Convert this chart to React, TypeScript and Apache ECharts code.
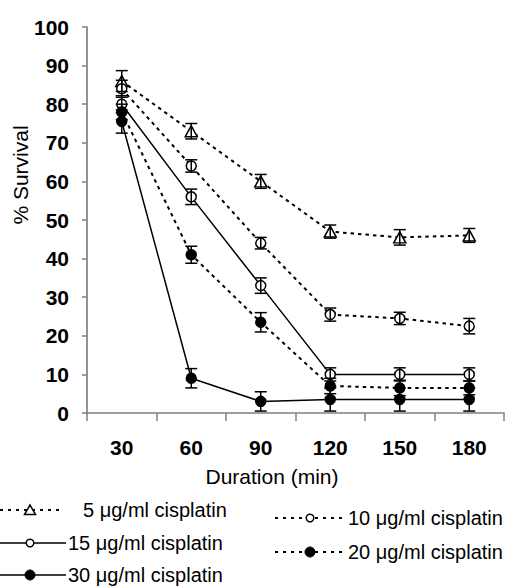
import React, { useEffect, useRef } from "react";
import * as echarts from "echarts";

const categories = ["30", "60", "90", "120", "150", "180"];
const yTicks = [0, 10, 20, 30, 40, 50, 60, 70, 80, 90, 100];

const s5 = [86, 73, 60, 47, 45.5, 46];
const e5 = [2.7, 2, 1.8, 1.7, 2, 1.8];
const s10 = [84, 64, 44, 25.5, 24.5, 22.5];
const e10 = [2.2, 1.6, 1.5, 1.7, 1.6, 2];
const s15 = [80, 56, 33, 10, 10, 10];
const e15 = [2.2, 2, 2, 1.7, 1.7, 1.7];
const s20 = [78, 41, 23.5, 7, 6.5, 6.5];
const e20 = [2, 2.2, 2.5, 2, 2, 1.8];
const s30 = [75.5, 9, 3, 3.5, 3.5, 3.5];
const e30 = [3, 2.5, 2.5, 3, 3, 3];

const legendNames = [
  "5 μg/ml cisplatin",
  "10 μg/ml cisplatin",
  "15 μg/ml cisplatin",
  "20 μg/ml cisplatin",
  "30 μg/ml cisplatin",
];

const FONT = "'Liberation Sans', Arial, sans-serif";
const DASH = [3.5, 4];
const LDASH = [3, 5];

function errData(vals: number[], errs: number[]) {
  return vals.map((v, i) => [i, v, errs[i]]);
}

function errSeries(vals: number[], errs: number[]) {
  return {
    type: "custom",
    z: 5,
    silent: true,
    data: errData(vals, errs),
    renderItem: (params: any, api: any) => {
      const idx = api.value(0);
      const v = api.value(1);
      const e = api.value(2);
      const top = api.coord([idx, v + e]);
      const bot = api.coord([idx, v - e]);
      const hw = 6;
      const st = { stroke: "#000", lineWidth: 1.5 };
      return {
        type: "group",
        children: [
          { type: "line", shape: { x1: top[0], y1: top[1], x2: bot[0], y2: bot[1] }, style: st },
          { type: "line", shape: { x1: top[0] - hw, y1: top[1], x2: top[0] + hw, y2: top[1] }, style: st },
          { type: "line", shape: { x1: bot[0] - hw, y1: bot[1], x2: bot[0] + hw, y2: bot[1] }, style: st },
        ],
      };
    },
  };
}

function lineSeries(name: string, vals: number[], dashed: boolean, symbol: string, size: any, filled: boolean) {
  return {
    name,
    type: "line",
    data: vals,
    symbol,
    symbolSize: size,
    showSymbol: true,
    z: 3,
    lineStyle: { color: "#000", width: dashed ? 2 : 1.5, type: dashed ? DASH : "solid" },
    itemStyle: { color: filled ? "#000" : "#fff", borderColor: "#000", borderWidth: 1.5 },
  };
}

function legendItem(x1: number, x2: number, y: number, mx: number, dashed: boolean, marker: string, textX: number, text: string) {
  const items: any[] = [
    {
      type: "line",
      shape: { x1, y1: y, x2, y2: y },
      style: { stroke: "#000", lineWidth: dashed ? 2 : 1.5, lineDash: dashed ? LDASH : null },
    },
  ];
  if (marker === "triangle") {
    items.push({
      type: "polygon",
      shape: { points: [[mx, y - 5], [mx - 5.5, y + 4.5], [mx + 5.5, y + 4.5]] },
      style: { fill: "#fff", stroke: "#000", lineWidth: 1.5 },
    });
  } else if (marker === "open") {
    items.push({
      type: "circle",
      shape: { cx: mx, cy: y, r: 3.8 },
      style: { fill: "#fff", stroke: "#000", lineWidth: 1.5 },
    });
  } else {
    items.push({
      type: "circle",
      shape: { cx: mx, cy: y, r: 5 },
      style: { fill: "#000", stroke: "#000", lineWidth: 1 },
    });
  }
  items.push({
    type: "text",
    x: textX,
    y,
    style: { text, fontSize: 20, fontFamily: FONT, fill: "#000", verticalAlign: "middle", align: "left" },
  });
  return items;
}

export default function App() {
  const ref = useRef<HTMLDivElement>(null);
  useEffect(() => {
    if (!ref.current) return;
    const chart = echarts.init(ref.current, null, { renderer: "svg" });
    const graphics: any[] = [
      {
        type: "text",
        x: 20,
        y: 175,
        rotation: Math.PI / 2,
        style: { text: "% Survival", fontSize: 21, fontFamily: FONT, fill: "#000", align: "center", verticalAlign: "middle" },
      },
      {
        type: "text",
        x: 272,
        y: 476,
        style: { text: "Duration (min)", fontSize: 21, fontFamily: FONT, fill: "#000", align: "center", verticalAlign: "middle" },
      },
      ...legendItem(0, 63, 510, 30, true, "triangle", 83, legendNames[0]),
      ...legendItem(275, 345, 518, 310, true, "open", 348, legendNames[1]),
      ...legendItem(0, 66, 543, 30, false, "open", 68, legendNames[2]),
      ...legendItem(275, 345, 552, 310, true, "filled", 348, legendNames[3]),
      ...legendItem(0, 66, 575, 30, false, "filled", 68, legendNames[4]),
    ];
    chart.setOption({
      animation: false,
      grid: { left: 87, right: 3, top: 27, bottom: 174, containLabel: false },
      xAxis: {
        type: "category",
        data: categories,
        boundaryGap: true,
        axisLine: { lineStyle: { color: "#808080", width: 1.5 } },
        axisTick: { show: true, length: 8, interval: 0, lineStyle: { color: "#808080", width: 1.5 } },
        axisLabel: { margin: 24, fontSize: 21, fontWeight: "bold", fontFamily: FONT, color: "#000" },
      },
      yAxis: {
        type: "value",
        min: yTicks[0],
        max: yTicks[yTicks.length - 1],
        interval: 10,
        splitLine: { show: false },
        axisLine: { show: true, lineStyle: { color: "#707070", width: 1.5 } },
        axisTick: { show: true, length: 5, lineStyle: { color: "#808080", width: 1.5 } },
        axisLabel: { margin: 18, fontSize: 21, fontWeight: "bold", fontFamily: FONT, color: "#000" },
      },
      series: [
        lineSeries(legendNames[0], s5, true, "triangle", [12, 11], false),
        lineSeries(legendNames[1], s10, true, "circle", 10, false),
        lineSeries(legendNames[2], s15, false, "circle", 10, false),
        lineSeries(legendNames[3], s20, true, "circle", 10, true),
        lineSeries(legendNames[4], s30, false, "circle", 10, true),
        errSeries(s5, e5),
        errSeries(s10, e10),
        errSeries(s15, e15),
        errSeries(s20, e20),
        errSeries(s30, e30),
      ],
      graphic: graphics,
    });
    return () => chart.dispose();
  }, []);
  return <div ref={ref} style={{ width: 507, height: 587, position: "absolute", left: 0, top: 0 }} />;
}
